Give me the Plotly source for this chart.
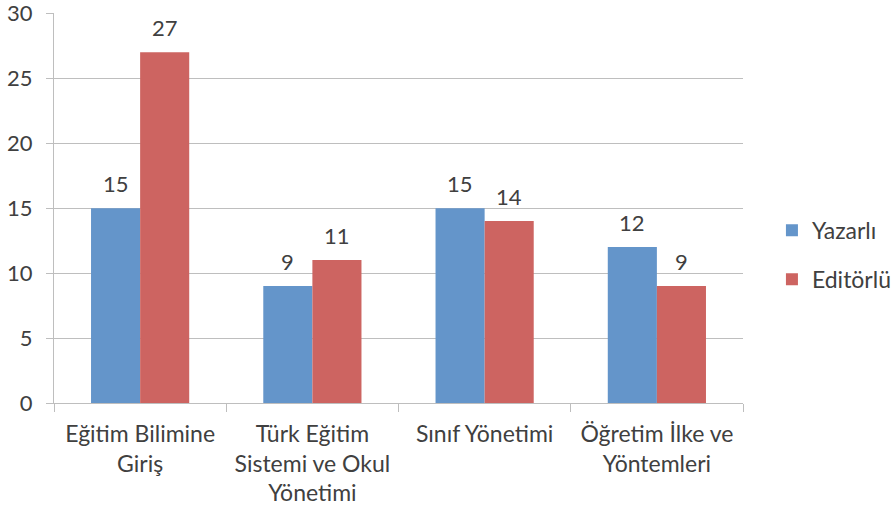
import plotly.graph_objects as go

categories = ["Eğitim Bilimine<br>Giriş", "Türk Eğitim<br>Sistemi ve Okul<br>Yönetimi", "Sınıf Yönetimi", "Öğretim İlke ve<br>Yöntemleri"]
yazarli = [15, 9, 15, 12]
editorlu = [27, 11, 14, 9]
y_ticks = [0, 5, 10, 15, 20, 25, 30]

FONT = "Lato"
TXT = "#404040"
GRID = "#BEBEBE"
BARGAP = 0.43

fig = go.Figure()
fig.add_trace(go.Bar(name="Yazarlı", x=categories, y=yazarli, marker_color="#6495CA",
                     marker_line_width=0, offsetgroup="a", legendgroup="a"))
fig.add_trace(go.Bar(name="Editörlü", x=categories, y=editorlu, marker_color="#CD6461",
                     marker_line_width=0, offsetgroup="b", legendgroup="b"))

# data labels above bars
for i, cat in enumerate(categories):
    for vals, off in ((yazarli, -0.5), (editorlu, 0.5)):
        fig.add_annotation(x=i + off * (1 - BARGAP) / 2, y=vals[i], xref="x", yref="y",
                           text=str(vals[i]), showarrow=False, yshift=25,
                           font=dict(family=FONT, size=22, color=TXT))

fig.update_layout(
    width=892, height=509,
    margin=dict(l=54, r=149, t=13, b=106, autoexpand=False),
    paper_bgcolor="white", plot_bgcolor="white",
    barmode="group", bargap=BARGAP, bargroupgap=0,
    font=dict(family=FONT, size=23, color=TXT),
    legend=dict(x=1.042, y=0.38, yanchor="middle", xanchor="left",
                font=dict(family=FONT, size=23, color=TXT),
                traceorder="grouped", tracegroupgap=16, itemwidth=30),
    showlegend=True,
)
fig.update_yaxes(range=[0, 30.02], tickvals=y_ticks, showgrid=True, gridcolor=GRID, gridwidth=1,
                 showline=True, linecolor=GRID, ticks="outside", ticklen=7, tickcolor=GRID,
                 tickfont=dict(family=FONT, size=22, color=TXT), zeroline=False, automargin=False,
                 ticklabelstandoff=9, ticklabeloverflow="allow")
fig.update_xaxes(showline=True, linecolor=GRID, ticks="outside", ticklen=8, tickcolor=GRID,
                 tickson="boundaries", tickfont=dict(family=FONT, size=23, color=TXT), tickangle=0,
                 automargin=False, ticklabelstandoff=10)

fig.write_html("out.html", config={"displayModeBar": False},
               post_script="document.body.style.margin='0';")
